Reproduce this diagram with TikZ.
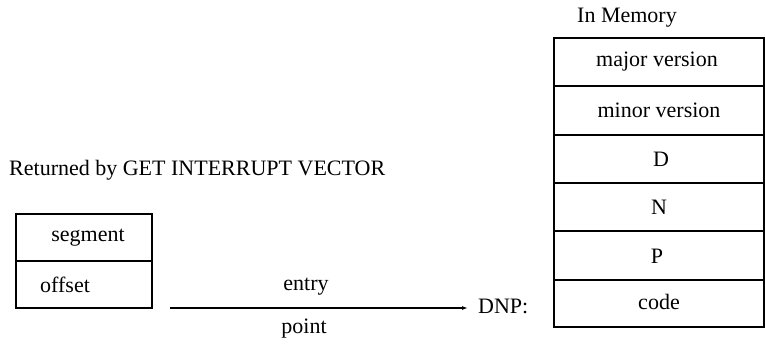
\documentclass[tikz,border=0pt]{standalone}
\usepackage{fontspec}
\setmainfont{Liberation Serif}
\usetikzlibrary{arrows.meta}
\begin{document}
\begin{tikzpicture}[x=1pt,y=-1pt,
  box/.style={draw,line width=1.4pt},
  lbl/.style={font=\fontsize{22}{25}\selectfont,inner sep=0pt},
  arr/.style={line width=1.2pt,-{Latex[length=6pt,width=4pt]}}]
\useasboundingbox (0,0) rectangle (765,343);
% right stack
\draw[box] (554,38) rectangle (764,327);
\foreach \y in {86,135,183,231,280} \draw[box] (554,\y) -- (764,\y);
\node[lbl,anchor=west] (mem) at (577,18) {In Memory};
\node[lbl] (maj) at (657,62) {major version};
\node[lbl] (min) at (659,110) {minor version};
\node[lbl] (d) at (661,159) {D};
\node[lbl] (n) at (659,207) {N};
\node[lbl] (p) at (657,256) {P};
\node[lbl] (code) at (659,302) {code};
% left box
\draw[box] (16,214) rectangle (152,308);
\draw[box] (16,261) -- (152,261);
\node[lbl] (seg) at (88,238) {segment};
\node[lbl,anchor=west] (off) at (40,285) {offset};
\node[lbl,anchor=west] (ret) at (9,170) {Returned by GET INTERRUPT VECTOR};
% arrow
\coordinate (a0) at (170,308);
\node[lbl,anchor=west] (dnp) at (478,306) {DNP:};
\draw[arr] (a0) -- ([xshift=-10pt]dnp.west |- a0);
\node[lbl] (entry) at (306,287) {entry};
\node[lbl] (point) at (304,329) {point};
\end{tikzpicture}
\end{document}
